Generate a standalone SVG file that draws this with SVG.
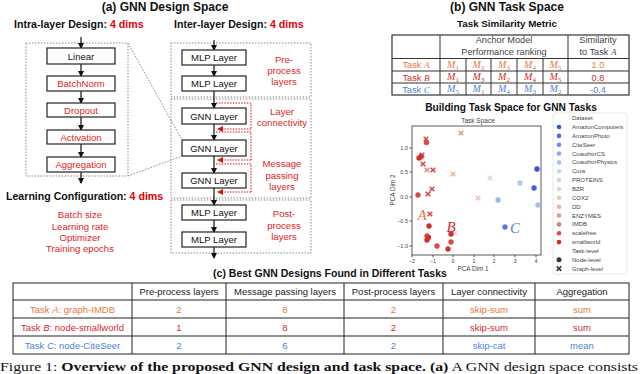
<svg xmlns="http://www.w3.org/2000/svg" xmlns:xlink="http://www.w3.org/1999/xlink" width="640" height="374" viewBox="0 0 640 374">
<defs>
<marker id="ah" markerWidth="6" markerHeight="6" refX="5" refY="3" orient="auto" markerUnits="userSpaceOnUse"><path d="M0,0 L6,3 L0,6 Z" fill="#111"/></marker>
<marker id="ahr" markerWidth="6" markerHeight="6" refX="5" refY="3" orient="auto" markerUnits="userSpaceOnUse"><path d="M0,0 L6,3 L0,6 Z" fill="#e01010"/></marker>
<path id="xm" d="M-2.3,-2.3 L2.3,2.3 M-2.3,2.3 L2.3,-2.3" stroke-width="1.6" fill="none"/>
</defs>
<style>
text{font-family:"Liberation Sans",Arial,sans-serif;}
.t1{font-size:12px;font-weight:bold;text-anchor:middle;fill:#111;}
.t2{font-size:10.6px;font-weight:bold;fill:#111;}
.t3{font-size:10.2px;font-weight:bold;text-anchor:middle;fill:#111;}
.rd{fill:#e00000;}
.box{fill:#fff;stroke:#222;stroke-width:1.2;}
.bl{font-size:9.5px;text-anchor:middle;fill:#111;}
.blr{font-size:9.5px;text-anchor:middle;fill:#e01e1e;}
.lab{font-size:9.6px;text-anchor:middle;fill:#e01e1e;}
.dot{fill:none;stroke:#888;stroke-width:1;stroke-dasharray:1.5 1.5;}
.rdot{fill:none;stroke:#e01010;stroke-width:1;stroke-dasharray:1.5 1.3;}
.arr{stroke:#111;stroke-width:1.2;marker-end:url(#ah);}
.tl{stroke:#333;stroke-width:1;fill:none;}
.tt{font-size:9.2px;text-anchor:middle;fill:#444;}
.m{font-family:"Liberation Serif",serif;font-style:italic;font-size:10px;text-anchor:middle;}
.sb{font-size:7px;font-style:normal;}
.ot{fill:#e8783c;}
.rt{fill:#d42a2a;}
.bt{fill:#4f7fdc;}
.ax{stroke:#333;stroke-width:0.8;fill:none;}
.tk{font-size:5.5px;fill:#444;text-anchor:middle;}
.lg{font-size:6px;fill:#444;}
.bt2{font-size:9.5px;text-anchor:middle;fill:#222;}
</style>

<!-- (a) -->
<text class="t1" x="165" y="11">(a) GNN Design Space</text>
<text class="t2" x="14" y="28">Intra-layer Design: <tspan class="rd">4 dims</tspan></text>
<text class="t2" x="174" y="28">Inter-layer Design: <tspan class="rd">4 dims</tspan></text>

<g id="connectors">
<rect class="dot" x="26" y="43" width="102" height="133"/>
<line class="dot" x1="128" y1="43" x2="182" y2="140"/>
<line class="dot" x1="128" y1="176" x2="182" y2="156"/>
<rect class="dot" x="171" y="43" width="140" height="54"/>
<rect class="dot" x="171" y="99" width="140" height="99"/>
<rect class="dot" x="171" y="200" width="140" height="53"/>
<line class="arr" x1="81" y1="37" x2="81" y2="48"/>
<line class="arr" x1="81" y1="64" x2="81" y2="76"/>
<line class="arr" x1="81" y1="91" x2="81" y2="103"/>
<line class="arr" x1="81" y1="117" x2="81" y2="130"/>
<line class="arr" x1="81" y1="144" x2="81" y2="157"/>
<line class="arr" x1="81" y1="172" x2="81" y2="183"/>
<line class="arr" x1="214" y1="40" x2="214" y2="50"/>
<line class="arr" x1="214" y1="65" x2="214" y2="76"/>
<line class="arr" x1="214" y1="91" x2="214" y2="108"/>
<line class="arr" x1="214" y1="124" x2="214" y2="140"/>
<line class="arr" x1="214" y1="156" x2="214" y2="173"/>
<line class="arr" x1="214" y1="188" x2="214" y2="205"/>
<line class="arr" x1="214" y1="220" x2="214" y2="232"/>
<line class="arr" x1="214" y1="247" x2="214" y2="258"/>
<path class="rdot" d="M216,103 H251 V129"/>
<path class="rdot" d="M251,129 H218" marker-end="url(#ahr)"/>
<path class="rdot" d="M216,132 H251 V160"/>
<path class="rdot" d="M251,160 H218" marker-end="url(#ahr)"/>
<path class="rdot" d="M216,164 H251 V192"/>
<path class="rdot" d="M251,192 H218" marker-end="url(#ahr)"/>
</g>

<g id="n-linear"><rect class="box" x="47" y="48" width="68" height="16"/><text class="bl" x="81" y="59.5">Linear</text></g>
<g id="n-batchnorm"><rect class="box" x="47" y="76" width="68" height="15"/><text class="blr" x="81" y="87">BatchNorm</text></g>
<g id="n-dropout"><rect class="box" x="47" y="103" width="68" height="14"/><text class="blr" x="81" y="113.5">Dropout</text></g>
<g id="n-activation"><rect class="box" x="47" y="130" width="68" height="14"/><text class="blr" x="81" y="140.5">Activation</text></g>
<g id="n-aggregation"><rect class="box" x="47" y="157" width="68" height="15"/><text class="blr" x="81" y="168">Aggregation</text></g>

<g id="n-mlp1"><rect class="box" x="182" y="50" width="64" height="15"/><text class="bl" x="214" y="61">MLP Layer</text></g>
<g id="n-mlp2"><rect class="box" x="182" y="76" width="64" height="15"/><text class="bl" x="214" y="87">MLP Layer</text></g>
<g id="n-gnn1"><rect class="box" x="182" y="108" width="64" height="16"/><text class="bl" x="214" y="119.5">GNN Layer</text></g>
<g id="n-gnn2"><rect class="box" x="182" y="140" width="64" height="16"/><text class="bl" x="214" y="151.5">GNN Layer</text></g>
<g id="n-gnn3"><rect class="box" x="182" y="173" width="64" height="15"/><text class="bl" x="214" y="184">GNN Layer</text></g>
<g id="n-mlp3"><rect class="box" x="182" y="205" width="64" height="15"/><text class="bl" x="214" y="216">MLP Layer</text></g>
<g id="n-mlp4"><rect class="box" x="182" y="232" width="64" height="15"/><text class="bl" x="214" y="243">MLP Layer</text></g>

<g id="labels-a">
<text class="lab" x="284" y="63">Pre-</text><text class="lab" x="284" y="74">process</text><text class="lab" x="284" y="85">layers</text>
<text class="lab" x="282" y="115">Layer</text><text class="lab" x="282" y="126">connectivity</text>
<text class="lab" x="282" y="167">Message</text><text class="lab" x="282" y="179">passing</text><text class="lab" x="282" y="190">layers</text>
<text class="lab" x="284" y="217">Post-</text><text class="lab" x="284" y="229">process</text><text class="lab" x="284" y="240">layers</text>
</g>

<g id="learning-config">
<text class="t2" x="6" y="200">Learning Configuration: <tspan class="rd">4 dims</tspan></text>
<text class="lab" x="80" y="218">Batch size</text>
<text class="lab" x="80" y="230">Learning rate</text>
<text class="lab" x="80" y="241">Optimizer</text>
<text class="lab" x="80" y="252">Training epochs</text>
</g>

<!-- (b) -->
<text class="t1" x="507" y="11">(b) GNN Task Space</text>
<text class="t3" x="507" y="27" style="font-size:9.8px">Task Similarity Metric</text>
<g id="sim-table">
<rect class="tl" x="392" y="35" width="237" height="60" style="stroke-width:1.2"/>
<line class="tl" x1="392" y1="58.5" x2="629" y2="58.5"/>
<line class="tl" x1="392" y1="71" x2="629" y2="71"/>
<line class="tl" x1="392" y1="83" x2="629" y2="83"/>
<line class="tl" x1="440" y1="35" x2="440" y2="95"/>
<line class="tl" x1="568" y1="35" x2="568" y2="95"/>
<line class="tl" x1="466" y1="58.5" x2="466" y2="95"/>
<line class="tl" x1="491" y1="58.5" x2="491" y2="95"/>
<line class="tl" x1="517" y1="58.5" x2="517" y2="95"/>
<line class="tl" x1="543" y1="58.5" x2="543" y2="95"/>
<text class="tt" x="504" y="43">Anchor Model</text>
<text class="tt" x="504" y="55">Performance ranking</text>
<text class="tt" x="598" y="43">Similarity</text>
<text class="tt" x="598" y="55">to Task <tspan font-family="Liberation Serif" font-style="italic">A</tspan></text>
<text class="tt ot" x="416" y="68">Task <tspan font-family="Liberation Serif" font-style="italic">A</tspan></text>
<text class="tt rt" x="416" y="80.5">Task <tspan font-family="Liberation Serif" font-style="italic">B</tspan></text>
<text class="tt bt" x="416" y="92.5">Task <tspan font-family="Liberation Serif" font-style="italic">C</tspan></text>
<g class="ot">
<text class="m" x="453" y="67.5">M<tspan class="sb" dy="2">1</tspan></text>
<text class="m" x="478.5" y="67.5">M<tspan class="sb" dy="2">2</tspan></text>
<text class="m" x="504" y="67.5">M<tspan class="sb" dy="2">3</tspan></text>
<text class="m" x="530" y="67.5">M<tspan class="sb" dy="2">4</tspan></text>
<text class="m" x="555.5" y="67.5">M<tspan class="sb" dy="2">5</tspan></text>
<text class="tt ot" x="598" y="68">1.0</text>
</g>
<g class="rt">
<text class="m" x="453" y="80">M<tspan class="sb" dy="2">1</tspan></text>
<text class="m" x="478.5" y="80">M<tspan class="sb" dy="2">3</tspan></text>
<text class="m" x="504" y="80">M<tspan class="sb" dy="2">2</tspan></text>
<text class="m" x="530" y="80">M<tspan class="sb" dy="2">4</tspan></text>
<text class="m" x="555.5" y="80">M<tspan class="sb" dy="2">5</tspan></text>
<text class="tt rt" x="598" y="80.5">0.8</text>
</g>
<g class="bt">
<text class="m" x="453" y="92">M<tspan class="sb" dy="2">5</tspan></text>
<text class="m" x="478.5" y="92">M<tspan class="sb" dy="2">1</tspan></text>
<text class="m" x="504" y="92">M<tspan class="sb" dy="2">4</tspan></text>
<text class="m" x="530" y="92">M<tspan class="sb" dy="2">3</tspan></text>
<text class="m" x="555.5" y="92">M<tspan class="sb" dy="2">2</tspan></text>
<text class="tt bt" x="598" y="92.5">-0.4</text>
</g>
</g>

<text class="t3" x="511" y="111">Building Task Space for GNN Tasks</text>

<g id="scatter">
<text class="tk" x="478" y="123" style="font-size:6.5px">Task Space</text>
<rect class="ax" x="412" y="126" width="129" height="129"/>
<g class="ax">
<line x1="412" y1="255" x2="412" y2="257.5"/><line x1="433" y1="255" x2="433" y2="257.5"/><line x1="453" y1="255" x2="453" y2="257.5"/><line x1="474" y1="255" x2="474" y2="257.5"/><line x1="494" y1="255" x2="494" y2="257.5"/><line x1="515" y1="255" x2="515" y2="257.5"/><line x1="536" y1="255" x2="536" y2="257.5"/>
<line x1="409.5" y1="148" x2="412" y2="148"/><line x1="409.5" y1="172" x2="412" y2="172"/><line x1="409.5" y1="197" x2="412" y2="197"/><line x1="409.5" y1="221" x2="412" y2="221"/><line x1="409.5" y1="246" x2="412" y2="246"/>
</g>
<text class="tk" x="412" y="263">−2</text><text class="tk" x="433" y="263">−1</text><text class="tk" x="453" y="263">0</text><text class="tk" x="474" y="263">1</text><text class="tk" x="494" y="263">2</text><text class="tk" x="515" y="263">3</text><text class="tk" x="536" y="263">4</text>
<text class="tk" x="408" y="150" style="text-anchor:end">1.0</text><text class="tk" x="408" y="174" style="text-anchor:end">0.5</text><text class="tk" x="408" y="199" style="text-anchor:end">0.0</text><text class="tk" x="408" y="223" style="text-anchor:end">−0.5</text><text class="tk" x="408" y="248" style="text-anchor:end">−1.0</text>
<text class="tk" x="473" y="271" style="font-size:6.3px">PCA Dim 1</text>
<text class="tk" x="0" y="0" style="font-size:6.3px" transform="translate(395,190) rotate(-90)">PCA Dim 2</text>

<g id="pts-x">
<use href="#xm" x="426" y="139" stroke="#d84a48"/>
<use href="#xm" x="422" y="155" stroke="#d84a48"/>
<use href="#xm" x="423" y="164" stroke="#d84a48"/>
<use href="#xm" x="427" y="170" stroke="#e58a80"/>
<use href="#xm" x="433" y="170" stroke="#d84a48"/>
<use href="#xm" x="453" y="174" stroke="#f0b094"/>
<use href="#xm" x="461" y="133" stroke="#e8967a"/>
<use href="#xm" x="490" y="178" stroke="#dadada"/>
<use href="#xm" x="432" y="189" stroke="#d84a48"/>
<use href="#xm" x="428" y="194" stroke="#d84a48"/>
<use href="#xm" x="478" y="198" stroke="#f0c0b4"/>
<use href="#xm" x="430" y="214" stroke="#d84a48"/>
<use href="#xm" x="455" y="233" stroke="#dedede"/>
</g>
<g id="pts-o">
<circle cx="426.5" cy="142.5" r="2.7" fill="#d84a48"/>
<circle cx="419" cy="158" r="2.7" fill="#d03030"/>
<circle cx="421" cy="156.5" r="2.7" fill="#d03030"/>
<circle cx="418" cy="195" r="2.7" fill="#d84a48"/>
<circle cx="429" cy="226" r="2.7" fill="#d03030"/>
<circle cx="427" cy="236" r="2.7" fill="#d84a48"/>
<circle cx="428.5" cy="237.5" r="2.7" fill="#d03030"/>
<circle cx="427" cy="240" r="2.7" fill="#d03030"/>
<circle cx="437" cy="246" r="2.7" fill="#d84a48"/>
<circle cx="448" cy="249" r="2.7" fill="#d03030"/>
<circle cx="451" cy="234" r="2.7" fill="#d03030"/>
<circle cx="451" cy="242" r="2.7" fill="#d84a48"/>
<circle cx="498" cy="200" r="2.7" fill="#9db4f2"/>
<circle cx="505" cy="227" r="2.7" fill="#5478e0"/>
<circle cx="537" cy="169" r="2.7" fill="#2f55d8"/>
<circle cx="520" cy="183" r="2.7" fill="#b2c6f4"/>
<circle cx="534" cy="188" r="2.7" fill="#3d62dc"/>
<circle cx="538" cy="205" r="2.7" fill="#a8bef4"/>
</g>
<text x="422" y="220" style="font-family:'Liberation Serif',serif;font-style:italic;font-size:15px;fill:#e8783c;text-anchor:middle">A</text>
<text x="451" y="232" style="font-family:'Liberation Serif',serif;font-style:italic;font-size:15px;fill:#d42a2a;text-anchor:middle">B</text>
<text x="515" y="233" style="font-family:'Liberation Serif',serif;font-style:italic;font-size:15px;fill:#4f7fdc;text-anchor:middle">C</text>
</g>

<g id="legend">
<rect x="553" y="113" width="74" height="161" rx="2" fill="#fff" stroke="#e2e2e2" stroke-width="0.8"/>
<text class="lg" x="572" y="120">Dataset</text>
<circle cx="559" cy="127" r="2.3" fill="#2f55d8"/><text class="lg" x="572" y="129">AmazonComputers</text>
<circle cx="559" cy="135.9" r="2.3" fill="#4a6ee0"/><text class="lg" x="572" y="137.9">AmazonPhoto</text>
<circle cx="559" cy="144.7" r="2.3" fill="#6a8aec"/><text class="lg" x="572" y="146.7">CiteSeer</text>
<circle cx="559" cy="153.6" r="2.3" fill="#8ea8f2"/><text class="lg" x="572" y="155.6">CoauthorCS</text>
<circle cx="559" cy="162.4" r="2.3" fill="#a9bff5"/><text class="lg" x="572" y="164.4">CoauthorPhysics</text>
<circle cx="559" cy="171.3" r="2.3" fill="#c6d4f3"/><text class="lg" x="572" y="173.3">Cora</text>
<circle cx="559" cy="180.1" r="2.3" fill="#d6d6da"/><text class="lg" x="572" y="182.1">PROTEINS</text>
<circle cx="559" cy="189" r="2.3" fill="#e2d6d2"/><text class="lg" x="572" y="191">BZR</text>
<circle cx="559" cy="197.8" r="2.3" fill="#f0c4bc"/><text class="lg" x="572" y="199.8">COX2</text>
<circle cx="559" cy="206.7" r="2.3" fill="#f0b094"/><text class="lg" x="572" y="208.7">DD</text>
<circle cx="559" cy="215.5" r="2.3" fill="#e8967a"/><text class="lg" x="572" y="217.5">ENZYMES</text>
<circle cx="559" cy="224.4" r="2.3" fill="#e07a70"/><text class="lg" x="572" y="226.4">IMDB</text>
<circle cx="559" cy="233.2" r="2.3" fill="#d84e50"/><text class="lg" x="572" y="235.2">scalefree</text>
<circle cx="559" cy="242.1" r="2.3" fill="#d42a2a"/><text class="lg" x="572" y="244.1">smallworld</text>
<text class="lg" x="572" y="252.9">Task-level</text>
<circle cx="559" cy="259.8" r="2.5" fill="#333"/><text class="lg" x="572" y="261.8">Node-level</text>
<use href="#xm" x="559" y="268.6" stroke="#333"/><text class="lg" x="572" y="270.6">Graph-level</text>
</g>

<!-- (c) -->
<text class="t3" x="330" y="277" style="font-size:10.5px">(c) Best GNN Designs Found in Different Tasks</text>
<g id="best-table">
<rect class="tl" x="13" y="283" width="616" height="71" style="stroke:#222"/>
<line class="tl" x1="13" y1="300" x2="629" y2="300" style="stroke:#222"/>
<line class="tl" x1="13" y1="318" x2="629" y2="318" style="stroke:#222"/>
<line class="tl" x1="13" y1="336" x2="629" y2="336" style="stroke:#222"/>
<line class="tl" x1="132" y1="283" x2="132" y2="354" style="stroke:#222"/>
<line class="tl" x1="226" y1="283" x2="226" y2="354" style="stroke:#222"/>
<line class="tl" x1="344" y1="283" x2="344" y2="354" style="stroke:#222"/>
<line class="tl" x1="443" y1="283" x2="443" y2="354" style="stroke:#222"/>
<line class="tl" x1="535" y1="283" x2="535" y2="354" style="stroke:#222"/>
<text class="bt2" x="179" y="294.5">Pre-process layers</text>
<text class="bt2" x="285" y="294.5">Message passing layers</text>
<text class="bt2" x="393.5" y="294.5">Post-process layers</text>
<text class="bt2" x="489" y="294.5">Layer connectivity</text>
<text class="bt2" x="582" y="294.5">Aggregation</text>
<g class="ot" style="font-size:9.5px;text-anchor:middle">
<text x="72.5" y="312.5">Task <tspan font-style="italic">A</tspan>: graph-IMDB</text>
<text x="179" y="312.5">2</text><text x="285" y="312.5">8</text><text x="393.5" y="312.5">2</text><text x="489" y="312.5">skip-sum</text><text x="582" y="312.5">sum</text>
</g>
<g class="rt" style="font-size:9.5px;text-anchor:middle">
<text x="72.5" y="330.5">Task <tspan font-style="italic">B</tspan>: node-smallworld</text>
<text x="179" y="330.5">1</text><text x="285" y="330.5">8</text><text x="393.5" y="330.5">2</text><text x="489" y="330.5">skip-sum</text><text x="582" y="330.5">sum</text>
</g>
<g class="bt" style="font-size:9.5px;text-anchor:middle">
<text x="72.5" y="348.5">Task <tspan font-style="italic">C</tspan>: node-CiteSeer</text>
<text x="179" y="348.5">2</text><text x="285" y="348.5">6</text><text x="393.5" y="348.5">2</text><text x="489" y="348.5">skip-cat</text><text x="582" y="348.5">mean</text>
</g>
</g>

<text x="0" y="371" textLength="638" lengthAdjust="spacingAndGlyphs" style="font-family:'Liberation Serif','Times New Roman',serif;font-size:13.5px;fill:#111">Figure 1: <tspan font-weight="bold">Overview of the proposed GNN design and task space.</tspan> <tspan font-weight="bold">(a)</tspan> A GNN design space consists</text>
</svg>
